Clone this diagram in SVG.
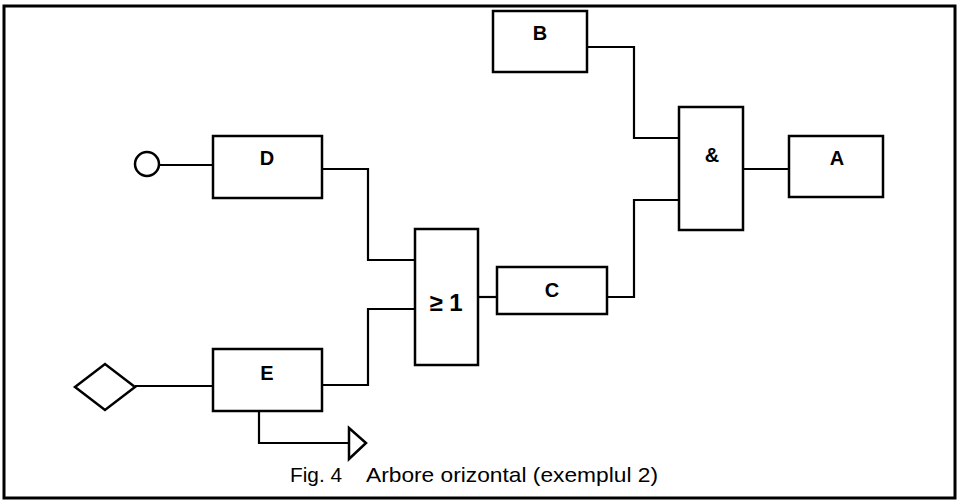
<svg xmlns="http://www.w3.org/2000/svg" width="960" height="503" viewBox="0 0 960 503">
<style>
.box{fill:#fff;stroke:#000;stroke-width:2.5}
.lbl{font-family:"Liberation Sans",Arial,sans-serif;font-weight:bold;font-size:20px;text-anchor:middle;fill:#000}
.ln{fill:none;stroke:#000;stroke-width:2.2}
.cap{font-family:"Liberation Sans",Arial,sans-serif;font-size:21px;fill:#000}
</style>
<rect x="0" y="0" width="960" height="503" fill="#fff"/>
<rect x="4" y="6" width="951" height="492" fill="none" stroke="#000" stroke-width="3"/>
<g id="connectors">
<path class="ln" d="M159 165 H213"/>
<path class="ln" d="M322 169 H368 V260 H415"/>
<path class="ln" d="M135 386 H213"/>
<path class="ln" d="M322 385 H368 V309 H415"/>
<path class="ln" d="M259 411 V443 H349"/>
<path class="ln" d="M478 297 H497"/>
<path class="ln" d="M607 297 H634 V200 H679"/>
<path class="ln" d="M587 47 H634 V138 H679"/>
<path class="ln" d="M743 169 H789"/>
</g>
<g id="start-circle"><circle cx="147" cy="164" r="12" class="box"/></g>
<g id="start-diamond"><polygon points="75,387 105,364 135,387 105,410" class="box"/></g>
<g id="end-triangle"><polygon points="349,428 366,443 349,459" class="box"/></g>
<g id="D"><rect x="213" y="136" width="109" height="62" class="box"/><text x="267" y="165" class="lbl">D</text></g>
<g id="E"><rect x="213" y="349" width="109" height="62" class="box"/><text x="267" y="380" class="lbl">E</text></g>
<g id="OR"><rect x="415" y="229" width="63" height="136" class="box"/><text x="446" y="311" class="lbl" style="font-size:24px">≥ 1</text></g>
<g id="C"><rect x="497" y="267" width="110" height="47" class="box"/><text x="552" y="297" class="lbl">C</text></g>
<g id="B"><rect x="493" y="11" width="94" height="61" class="box"/><text x="540" y="40" class="lbl">B</text></g>
<g id="AND"><rect x="679" y="107" width="64" height="123" class="box"/><text x="712" y="162" class="lbl">&amp;</text></g>
<g id="A"><rect x="789" y="136" width="94" height="61" class="box"/><text x="837" y="165" class="lbl">A</text></g>
<text class="cap" y="482"><tspan x="290" textLength="52" lengthAdjust="spacingAndGlyphs">Fig. 4</tspan><tspan x="366" textLength="292" lengthAdjust="spacingAndGlyphs">Arbore orizontal (exemplul 2)</tspan></text>
</svg>
